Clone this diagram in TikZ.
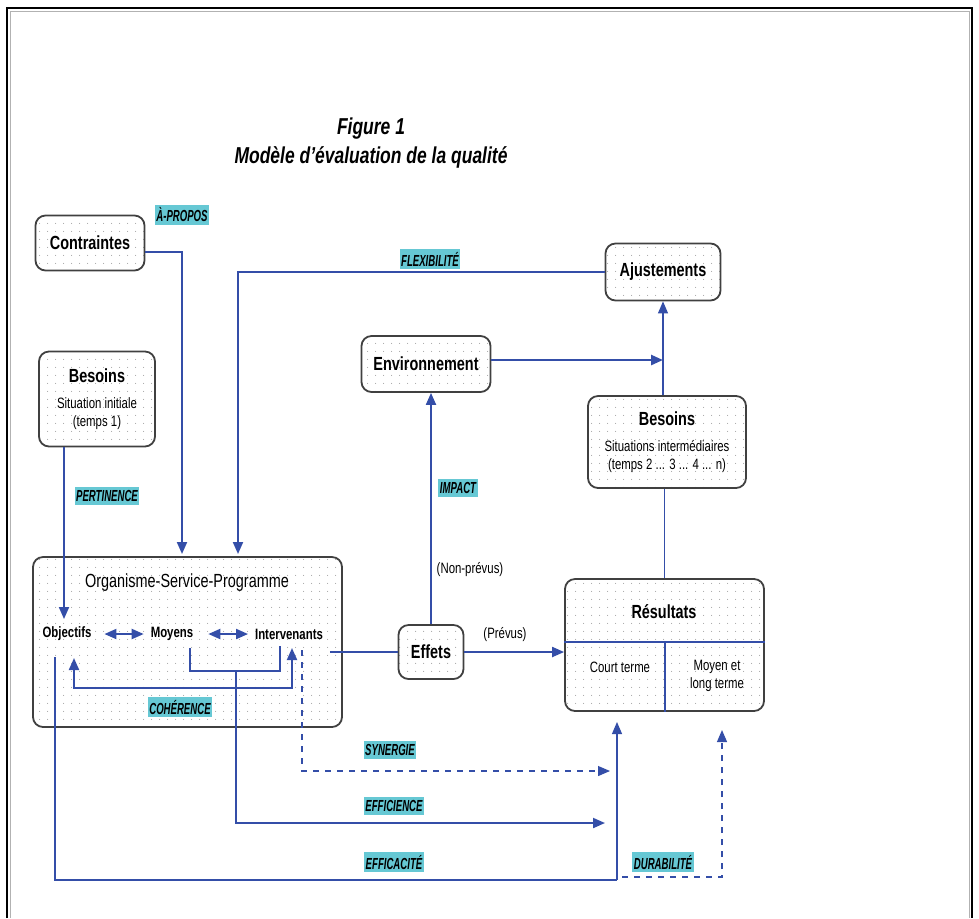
\documentclass[tikz,border=0pt]{standalone}
\usepackage{fontspec}
\setmainfont{Liberation Sans}[FakeStretch=0.76]
\newfontfamily\tagfont{Liberation Sans}[FakeStretch=0.6]
\usetikzlibrary{arrows.meta,patterns.meta}
\definecolor{linkblue}{RGB}{52,78,168}
\definecolor{tagcyan}{RGB}{102,200,212}

\begin{document}
\begin{tikzpicture}[x=0.5pt,y=-0.5pt,
  box/.style={draw=black!75,line width=0.9pt,rounded corners=5pt,pattern={Dots[distance=4pt,radius=0.3pt]},pattern color=black!35,align=center,inner sep=2pt},
  boxtitle/.style={font=\bfseries\fontsize{9.5}{11}\selectfont},
  item/.style={font=\bfseries\fontsize{7.5}{9}\selectfont},
  notetext/.style={font=\fontsize{7.5}{9}\selectfont},
  linkline/.style={draw=linkblue,line width=1pt},
  thinline/.style={draw=linkblue,line width=0.6pt},
  arrowend/.style={-{Triangle[length=6pt,width=5pt]}},
  botharrow/.style={{Triangle[length=6pt,width=5pt]}-{Triangle[length=6pt,width=5pt]}},
  tagbox/.style={fill=tagcyan,font=\tagfont\bfseries\itshape\fontsize{8}{9}\selectfont,inner xsep=0.8pt,inner ysep=1.5pt}
]
\useasboundingbox (0,0) rectangle (979,918);
% Frame
\draw[line width=1.3pt] (7,918) -- (7,8) -- (972,8) -- (972,918);
\draw[gray!60,line width=0.4pt] (10,918) -- (10,11) -- (969,11) -- (969,918);

% Title
\node[font=\bfseries\itshape\fontsize{11.5}{13}\selectfont] (fig) at (371,129) {Figure 1};
\node[font=\bfseries\itshape\fontsize{11.5}{13}\selectfont] (figname) at (371,157) {Modèle d’évaluation de la qualité};

% Boxes
\node[box,boxtitle,minimum width=54.5pt,minimum height=27.5pt] (contr) at (90,243) {Contraintes};
\node[box,notetext,minimum width=58pt,minimum height=47.5pt] (besoinsA) at (97,399) {\bfseries\fontsize{9.5}{11}\selectfont Besoins\\[4pt] Situation initiale\\ (temps 1)};
\node[box,boxtitle,minimum width=57.5pt,minimum height=28.5pt] (ajust) at (663,272) {Ajustements};
\node[box,boxtitle,minimum width=64.5pt,minimum height=28pt] (envir) at (426,364) {Environnement};
\node[box,notetext,minimum width=79pt,minimum height=46pt] (besoinsB) at (667,442) {\bfseries\fontsize{9.5}{11}\selectfont Besoins\\[4pt] Situations intermédiaires\\ (temps 2 ... 3 ... 4 ... n)};
\node[box,minimum width=154.5pt,minimum height=85pt] (org) at (187.5,642) {};
\node[box,boxtitle,minimum width=32.5pt,minimum height=27pt] (effets) at (431,652) {Effets};
\node[box,minimum width=99.5pt,minimum height=66pt] (result) at (664.5,645) {};

% Inside the boxes
\node[font=\fontsize{9.5}{11}\selectfont] (orgname) at (187,583) {Organisme-Service-Programme};
\node[item] (obj) at (67,634) {Objectifs};
\node[item] (moy) at (172,634) {Moyens};
\node[item] (interv) at (289,634) {Intervenants};
\node[boxtitle] (restitle) at (664,612) {Résultats};
\node[notetext] (court) at (620,667) {Court terme};
\node[notetext,align=center] (moyen) at (717,676) {Moyen et\\ long terme};
\coordinate (split) at (665,642);
\draw[linkline] (result.west |- split) -- (result.east |- split);
\draw[thinline] (split) -- (split |- result.south);

% Named ends
\coordinate (apropos) at (182,554);
\coordinate (flex) at (238,554);
\coordinate (pertT) at (64,619);
\coordinate (mb) at (236,671);
\coordinate (effic) at (605,823);
\coordinate (coh) at (180,688);
\coordinate (cohL) at (74,658);
\coordinate (cohR) at (292,648);
\coordinate (synS) at (302,650);
\coordinate (syn) at (610,771);
\coordinate (envT) at (663,360);
\coordinate (effaS) at (55,657);
\coordinate (effaC) at (617,880);
\coordinate (effaE) at (617,722);
\coordinate (duraS) at (622,877);
\coordinate (duraE) at (722,730);

% Connectors
\draw[linkline,arrowend] ([yshift=-4.5pt]contr.east) -| (apropos);
\draw[linkline,arrowend] (ajust.west) -| (flex);
\draw[linkline,arrowend] (besoinsA.south -| pertT) -- (pertT);
\draw[linkline,botharrow,shorten <=3pt] (obj) -- (moy);
\draw[linkline,botharrow,shorten <=4pt] (moy) -- (interv);
\draw[linkline] ([xshift=9pt]moy.south) |- (mb) -| ([xshift=-4.5pt]interv.south);
\draw[linkline,arrowend] (mb) |- (effic);
\draw[linkline,arrowend] (coh) -| (cohL);
\draw[linkline,arrowend] (coh) -| (cohR);
\draw[thinline,dashed,arrowend] (synS) |- (syn);
\draw[thinline] (interv.east |- effets.west) -- (effets.west);
\draw[linkline,arrowend] (effets.east) -- (result.west |- effets.east);
\draw[linkline,arrowend] (effets.north) -- (effets.north |- envir.south);
\draw[linkline,line width=1.3pt,arrowend] (envir.east |- envT) -- (envT);
\draw[thinline,arrowend] (ajust.south |- besoinsB.north) -- (ajust.south);
\draw[thinline] (result.north) -- (result.north |- besoinsB.south);
\draw[thinline] (effaS) |- (effaC);
\draw[linkline,line width=1.3pt] (effaS |- effaC) -- (effaC);
\draw[thinline,arrowend] (effaC) -- (effaE);
\draw[thinline,dashed,arrowend] (duraS) -| (duraE);

% Criteria tags
\node[tagbox] (tapropos) at (182,215) {À-PROPOS};
\node[tagbox] (tflex) at (430,259) {FLEXIBILITÉ};
\node[tagbox] (tpert) at (107,496) {PERTINENCE};
\node[tagbox] (timpact) at (458,488) {IMPACT};
\node[tagbox] (tcoh) at (180,707) {COHÉRENCE};
\node[tagbox] (tsyn) at (390,750) {SYNERGIE};
\node[tagbox] (teffic) at (394,806) {EFFICIENCE};
\node[tagbox] (teffa) at (394,862) {EFFICACITÉ};
\node[tagbox] (tdura) at (663,862) {DURABILITÉ};

% Plain labels
\node[notetext] (nonprevus) at (470,570) {(Non-prévus)};
\node[notetext] (prevus) at (505,635) {(Prévus)};
\end{tikzpicture}
\end{document}
